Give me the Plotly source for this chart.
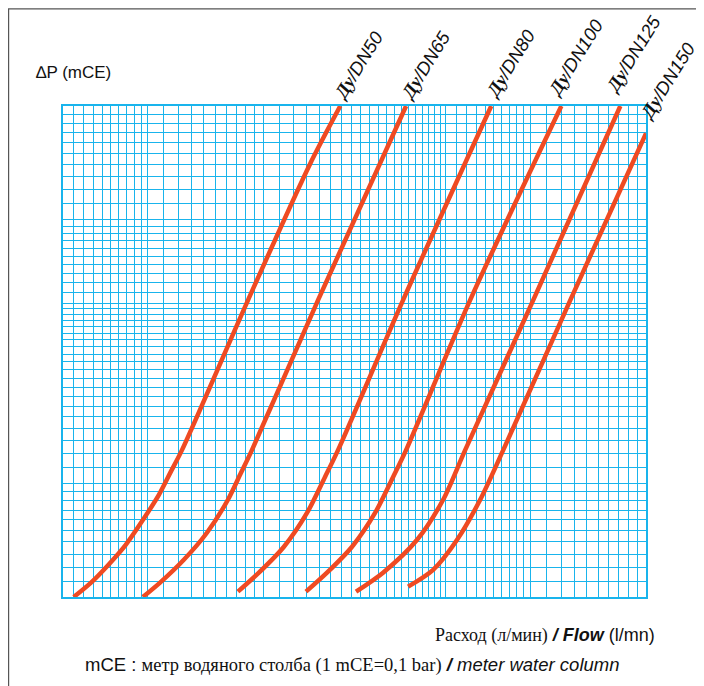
import numpy as np
import plotly.graph_objects as go

# Pressure drop curves (flow in l/min, dP in mCE, log-log)
dn_labels = ['DN50', 'DN65', 'DN80', 'DN100', 'DN125', 'DN150']

flow_dn50 = [64.0, 70.9, 79.0, 87.5, 97.0, 106.8, 114.7, 122.7, 182.6, 264.0, 318.0]
dp_dn50 = [0.100, 0.109, 0.122, 0.1375, 0.160, 0.1865, 0.2146, 0.245, 0.612, 1.392, 2.0]

flow_dn65 = [97.0, 107.4, 124.1, 142.6, 161.8, 174.9, 186.9, 278.2, 472.4]
dp_dn65 = [0.100, 0.109, 0.1255, 0.148, 0.181, 0.213, 0.245, 0.612, 2.0]

flow_dn80 = [171.8, 194.9, 226.6, 260.3, 290.1, 313.7, 463.9, 788.4]
dp_dn80 = [0.1033, 0.116, 0.1359, 0.167, 0.208, 0.245, 0.612, 2.0]

flow_dn100 = [258.7, 293.6, 341.3, 392.0, 437.0, 472.4, 694.4, 1202.0]
dp_dn100 = [0.1033, 0.116, 0.1359, 0.167, 0.208, 0.245, 0.612, 2.0]

flow_dn125 = [349.6, 411.3, 504.8, 590.3, 673.9, 1015.0, 1714.0]
dp_dn125 = [0.1033, 0.116, 0.1418, 0.181, 0.245, 0.612, 2.0]

flow_dn150 = [478.2, 555.8, 642.1, 737.6, 847.3, 1268.6, 2000.0]
dp_dn150 = [0.1065, 0.118, 0.1418, 0.181, 0.245, 0.612, 1.693]

curves = [(flow_dn50, dp_dn50), (flow_dn65, dp_dn65), (flow_dn80, dp_dn80),
          (flow_dn100, dp_dn100), (flow_dn125, dp_dn125), (flow_dn150, dp_dn150)]

# label positions (paper coords) for the rotated curve names
label_x = [0.506, 0.621, 0.767, 0.879, 0.979, 1.037]
label_y = [1.083, 1.083, 1.087, 1.099, 1.106, 1.052]

# log graph-paper grid
x_grid = np.concatenate([np.arange(60, 100, 4), np.arange(100, 200, 10), np.arange(200, 600, 20),
                         np.arange(600, 1000, 40), np.arange(1000, 2001, 100)])
y_grid = np.concatenate([np.arange(0.10, 0.2, 0.01), np.arange(0.2, 0.6, 0.02),
                         np.arange(0.6, 1.0, 0.04), np.arange(1.0, 2.01, 0.1)])

grid_col = '#19b4ec'
red = '#ef4a22'

fig = go.Figure()
for (fx, fy) in curves:
    fig.add_trace(go.Scatter(x=fx, y=fy, mode='lines',
                             line=dict(color=red, width=4.5, shape='spline', smoothing=0.8),
                             showlegend=False, hoverinfo='skip'))

fig.update_xaxes(type='log', range=[np.log10(60), np.log10(2000)], tickvals=x_grid, showticklabels=False,
                 ticks='', showgrid=True, gridcolor=grid_col, gridwidth=1, zeroline=False,
                 showline=True, linecolor=grid_col, linewidth=1.6, mirror=True)
fig.update_yaxes(type='log', range=[np.log10(0.1), np.log10(2)], tickvals=y_grid, showticklabels=False,
                 ticks='', showgrid=True, gridcolor=grid_col, gridwidth=1, zeroline=False,
                 showline=True, linecolor=grid_col, linewidth=1.6, mirror=True)

serif = 'Liberation Serif'
sans = 'Liberation Sans'

for name, lx, ly in zip(dn_labels, label_x, label_y):
    fig.add_annotation(
        x=lx, y=ly, xref='paper', yref='paper', xanchor='center', yanchor='middle',
        showarrow=False, textangle=-58,
        text=f'<span style="font-family:{serif}"><b><i>Ду</i></b></span><i>/{name}</i>',
        font=dict(family=sans, size=18.5, color='#111'))

fig.add_annotation(x=-0.049, y=1.069, xref='paper', yref='paper', xanchor='left', yanchor='middle',
                   showarrow=False, text='∆P (mCE)', font=dict(family=sans, size=17, color='#111'))

fig.add_annotation(x=1.019, y=-0.079, xref='paper', yref='paper', xanchor='right', yanchor='middle',
                   showarrow=False,
                   text=f'<span style="font-family:{serif}">Расход (л/мин)</span> <b><i>/ Flow</i></b> (l/mn)',
                   font=dict(family=sans, size=18, color='#111'))

fig.add_annotation(x=0.034, y=-0.138, xref='paper', yref='paper', xanchor='left', yanchor='middle',
                   showarrow=False,
                   text=f'mCE : <span style="font-family:{serif}">метр водяного столба (1 mCE=0,1 bar)</span>'
                        f' <b><i>/</i></b> <i>meter water column</i>',
                   font=dict(family=sans, size=18.5, color='#111'))

# outer frame of the figure (left and top edges show, the rest runs off the page)
fig.add_shape(type='rect', xref='paper', yref='paper', x0=-0.0933, x1=1.2, y0=-0.25, y1=1.198,
              line=dict(color='#555', width=1.2), layer='below')

# page body has an 8px offset, margins compensate so the plot sits where the original does
fig.update_layout(width=704, height=686, margin=dict(l=55, r=66, t=98, b=97),
                  plot_bgcolor='white', paper_bgcolor='white')

fig.write_html('out.html')
